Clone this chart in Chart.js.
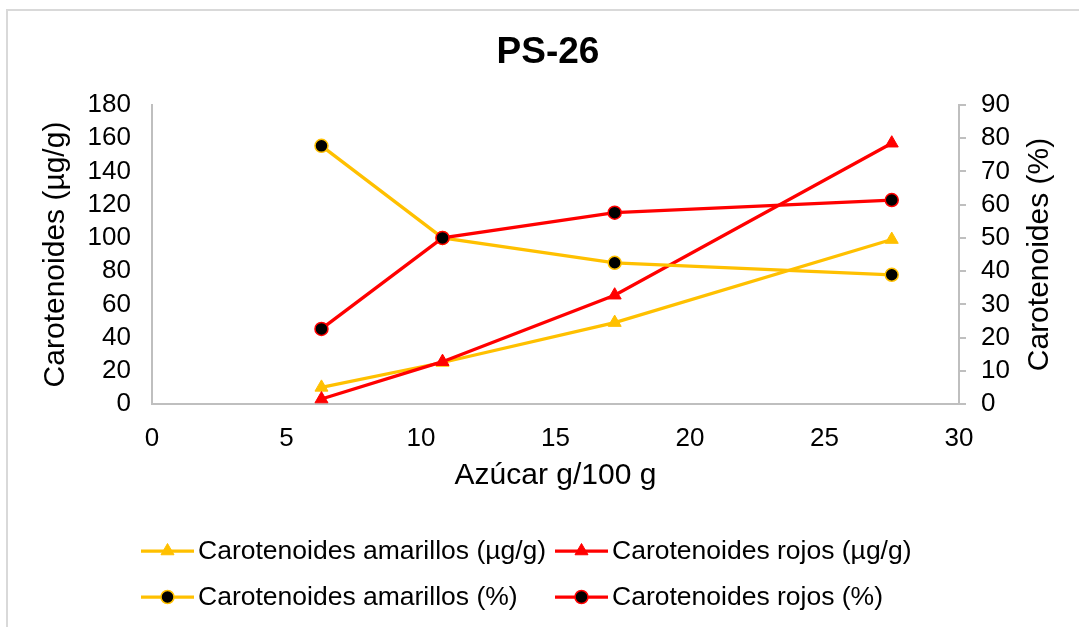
<!DOCTYPE html>
<html lang="es">
<head>
<meta charset="utf-8">
<title>PS-26</title>
<script src="https://cdn.jsdelivr.net/npm/chart.js@4.4.1/dist/chart.umd.min.js"></script>
<style>
  html, body { margin: 0; padding: 0; background: #fff; }
  #wrap { position: relative; width: 1079px; height: 627px; }
</style>
</head>
<body>
<div id="wrap"><canvas id="grafico"></canvas></div>
<script>
// azucar (g/100 g) de cada muestra
const azucar = [6.3, 10.8, 17.2, 27.5];
// carotenoides en µg/g (eje izquierdo)
const amarillosUg = [10, 25, 49, 99];
const rojosUg = [3, 25.5, 65.5, 157];
// carotenoides en % (eje derecho)
const amarillosPct = [77.7, 50, 42.5, 38.9];
const rojosPct = [22.6, 50, 57.6, 61.4];

const titulo = 'PS-26';
const tituloX = 'Azúcar g/100 g';
const tituloY = 'Carotenoides (µg/g)';
const tituloY1 = 'Carotenoides (%)';

const AMARILLO = '#FFC000';
const ROJO = '#FF0000';
const GRIS = '#BFBFBF';
const FUENTE = 'Arial, "Liberation Sans", sans-serif';

function puntos(ys) {
    return ys.map((y, i) => ({ x: azucar[i], y: y }));
}

function serieTriangulo(label, color, ys, order) {
    return {
        label: label, data: puntos(ys), yAxisID: 'y', order: order,
        borderColor: color, backgroundColor: color, borderWidth: 3.25,
        pointStyle: 'triangle', pointRadius: 7.5, pointBorderWidth: 1,
        pointBackgroundColor: color, pointBorderColor: color,
        tension: 0
    };
}

function serieCirculo(label, color, ys, order) {
    return {
        label: label, data: puntos(ys), yAxisID: 'y1', order: order,
        borderColor: color, backgroundColor: color, borderWidth: 3.25,
        pointStyle: 'circle', pointRadius: 6.5, pointBorderWidth: 1.5,
        pointBackgroundColor: '#000000', pointBorderColor: color,
        tension: 0
    };
}

// marco, titulo, titulo del eje derecho y leyenda de dos columnas
const extras = {
    id: 'extras',
    beforeDraw(chart) {
        const ctx = chart.ctx;
        ctx.save();
        ctx.fillStyle = '#ffffff';
        ctx.fillRect(0, 0, chart.width, chart.height);
        ctx.strokeStyle = '#D9D9D9';
        ctx.lineWidth = 2;
        ctx.strokeRect(7, 10, chart.width + 20, chart.height + 20);
        ctx.restore();
    },
    afterDraw(chart) {
        const ctx = chart.ctx;
        const area = chart.chartArea;
        ctx.save();

        ctx.fillStyle = '#000000';
        ctx.font = 'bold 37px ' + FUENTE;
        ctx.textAlign = 'center';
        ctx.textBaseline = 'middle';
        ctx.fillText(titulo, 548, 53);

        ctx.font = '30px ' + FUENTE;
        ctx.translate(1040, (area.top + area.bottom) / 2);
        ctx.rotate(-Math.PI / 2);
        ctx.fillText(tituloY1, 0, 0);
        ctx.setTransform(1, 0, 0, 1, 0, 0);

        const colX = [141, 555];
        const filaY = [551, 597];
        ctx.font = '26.5px ' + FUENTE;
        ctx.textAlign = 'left';
        chart.data.datasets.forEach((ds, i) => {
            const x0 = colX[i % 2];
            const y0 = filaY[Math.floor(i / 2)];
            ctx.strokeStyle = ds.borderColor;
            ctx.lineWidth = 3.25;
            ctx.beginPath();
            ctx.moveTo(x0, y0);
            ctx.lineTo(x0 + 53, y0);
            ctx.stroke();
            ctx.fillStyle = ds.pointBackgroundColor;
            ctx.strokeStyle = ds.pointBorderColor;
            ctx.lineWidth = ds.pointBorderWidth;
            Chart.helpers.drawPoint(ctx, {
                pointStyle: ds.pointStyle, radius: ds.pointRadius,
                rotation: 0, borderWidth: ds.pointBorderWidth
            }, x0 + 26.5, y0);
            ctx.fillStyle = '#000000';
            ctx.fillText(ds.label, x0 + 57, y0 + 1);
        });
        ctx.restore();
    }
};

const datos = {
    datasets: [
        serieTriangulo('Carotenoides amarillos (µg/g)', AMARILLO, amarillosUg, 4),
        serieTriangulo('Carotenoides rojos (µg/g)', ROJO, rojosUg, 3),
        serieCirculo('Carotenoides amarillos (%)', AMARILLO, amarillosPct, 2),
        serieCirculo('Carotenoides rojos (%)', ROJO, rojosPct, 1)
    ]
};

const fuenteTicks = { family: FUENTE, size: 26 };
const fuenteTitulos = { family: FUENTE, size: 30 };

const config = {
    type: 'line',
    data: datos,
    options: {
        responsive: true,
        maintainAspectRatio: false,
        animation: false,
        layout: { padding: { top: 105, bottom: 123, left: 0, right: 0 } },
        plugins: {
            legend: { display: false },
            title: { display: false },
            tooltip: { enabled: false }
        },
        scales: {
            x: {
                type: 'linear', min: 0, max: 30,
                ticks: { stepSize: 5, autoSkip: false, color: '#000', font: fuenteTicks, padding: 11, maxRotation: 0 },
                grid: { display: false },
                border: { display: true, color: GRIS, width: 2 },
                title: { display: true, text: tituloX, color: '#000', font: fuenteTitulos, padding: { top: 0, bottom: 10 } },
                afterFit(scale) { scale.height = 100; }
            },
            y: {
                type: 'linear', position: 'left', min: 0, max: 180,
                ticks: { stepSize: 20, autoSkip: false, color: '#000', font: fuenteTicks, padding: 13 },
                grid: { display: false },
                border: { display: true, color: GRIS, width: 2 },
                title: { display: true, text: tituloY, color: '#000', font: fuenteTitulos, padding: { top: 38, bottom: 0 } },
                afterFit(scale) { scale.width = 152; }
            },
            y1: {
                type: 'linear', position: 'right', min: 0, max: 90,
                ticks: { stepSize: 10, autoSkip: false, color: '#000', font: fuenteTicks, padding: 15 },
                grid: { display: true, drawOnChartArea: false, drawTicks: true, tickLength: 7, color: GRIS, lineWidth: 2 },
                border: { display: true, color: GRIS, width: 2 },
                afterFit(scale) { scale.width = 120; }
            }
        }
    },
    plugins: [extras]
};

const grafico = new Chart(document.getElementById('grafico'), config);
</script>
</body>
</html>
